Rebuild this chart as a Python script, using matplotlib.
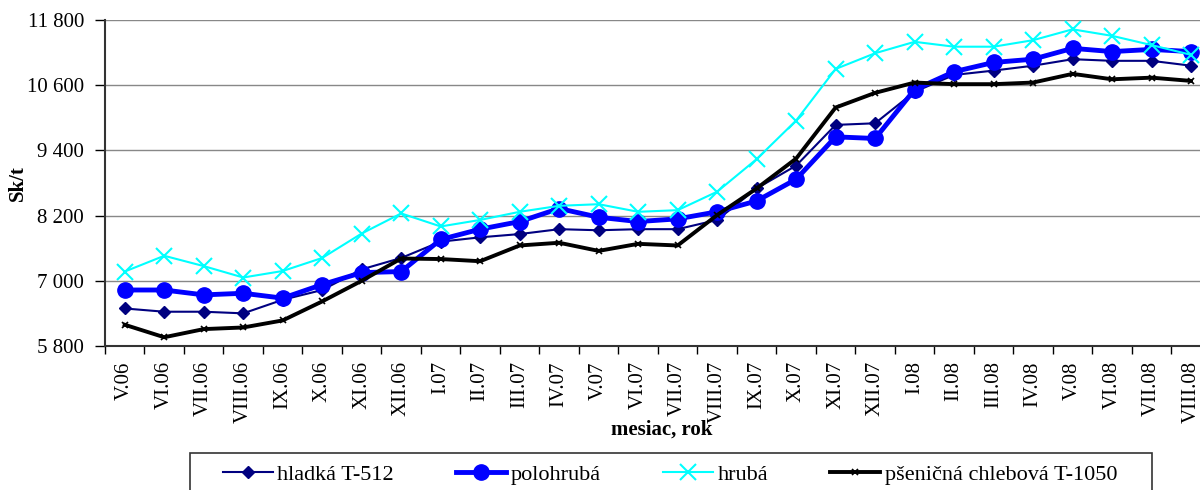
import matplotlib
matplotlib.use('Agg')
import matplotlib.pyplot as plt
from matplotlib.patches import Rectangle
import numpy as np

plt.rcParams['font.family'] = ['Liberation Serif', 'DejaVu Serif']

# months V.06 .. VIII.08
mesiace = ['V.06', 'VI.06', 'VII.06', 'VIII.06', 'IX.06', 'X.06', 'XI.06', 'XII.06',
           'I.07', 'II.07', 'III.07', 'IV.07', 'V.07', 'VI.07', 'VII.07', 'VIII.07',
           'IX.07', 'X.07', 'XI.07', 'XII.07', 'I.08', 'II.08', 'III.08', 'IV.08',
           'V.08', 'VI.08', 'VII.08', 'VIII.08']

hladka = [6490, 6430, 6430, 6400, 6650, 6830, 7210, 7420,
          7720, 7800, 7860, 7950, 7930, 7950, 7950, 8120,
          8700, 9120, 9870, 9900, 10480, 10790, 10870, 10960,
          11080, 11050, 11050, 10960]
polohruba = [6830, 6830, 6740, 6770, 6680, 6930, 7150, 7170,
             7760, 7950, 8090, 8330, 8170, 8090, 8140, 8270,
             8470, 8870, 9650, 9620, 10520, 10850, 11020, 11080,
             11280, 11220, 11260, 11220]
hruba = [7170, 7460, 7270, 7060, 7180, 7420, 7870, 8240,
         8000, 8120, 8270, 8380, 8410, 8270, 8300, 8640,
         9240, 9950, 10900, 11190, 11400, 11310, 11310, 11430,
         11630, 11510, 11340, 11160]
psenicna = [6190, 5960, 6110, 6140, 6270, 6620, 7000, 7410,
            7400, 7360, 7650, 7700, 7550, 7680, 7650, 8210,
            8700, 9250, 10190, 10460, 10650, 10620, 10620, 10650,
            10810, 10710, 10740, 10680]

yticks = [5800, 7000, 8200, 9400, 10600, 11800]
ylabels = ['5 800', '7 000', '8 200', '9 400', '10 600', '11 800']

fig = plt.figure(figsize=(12, 4.9), dpi=100)
ax = fig.add_axes([0.0875, 0.294, 0.9215, 0.665])

x = np.arange(len(mesiace))
ax.plot(x, hladka, color='#000080', lw=1.5, marker='D', ms=6, label='hladká T-512', zorder=3)
ax.plot(x, polohruba, color='#0000FF', lw=3.5, marker='o', ms=11, label='polohrubá', zorder=4)
ax.plot(x, hruba, color='#00FFFF', lw=1.5, marker='x', ms=12, mew=1.5, label='hrubá', zorder=5)
ax.plot(x, psenicna, color='black', lw=2.8, marker='x', ms=4, mew=1.2, label='pšeničná chlebová T-1050', zorder=6)

ax.set_xlim(-0.5, len(mesiace) - 0.5)
ax.set_ylim(5800, 11800)
ax.set_yticks(yticks)
ax.set_yticklabels(ylabels, fontsize=15)
ax.yaxis.grid(True, color='#888888', lw=1)
ax.set_axisbelow(True)

# ticks at category boundaries, labels at centres
ax.set_xticks(np.arange(len(mesiace) + 1) - 0.5)
ax.set_xticklabels([])
ax.set_xticks(x, minor=True)
ax.set_xticklabels(mesiace, minor=True, rotation=90, fontsize=15)
ax.tick_params(axis='x', which='minor', length=0, pad=11)
ax.tick_params(axis='x', which='major', length=6, width=1, direction='out')
ax.tick_params(axis='y', length=7, width=1, direction='out', pad=8)

for s in ['top', 'right']:
    ax.spines[s].set_visible(False)
for s in ['left', 'bottom']:
    ax.spines[s].set_linewidth(1.5)
    ax.spines[s].set_color('#333333')

fig.text(18 / 1200, 1 - 183 / 490, 'Sk/t', fontsize=15, fontweight='bold', rotation=90,
         ha='center', va='center')
fig.text(662 / 1200, 1 - 430 / 490, 'mesiac, rok', fontsize=15, fontweight='bold',
         ha='center', va='center')

# legend box (bottom runs off the picture)
fig.patches.append(Rectangle((190 / 1200, -0.05), (1152 - 190) / 1200, 0.05 + (490 - 453) / 490,
                             transform=fig.transFigure, fill=False, edgecolor='#333333', lw=1.2))
leg = fig.legend(loc='upper left', bbox_to_anchor=(223 / 1200, 1 - 464 / 490), ncol=4,
                 fontsize=16, frameon=False, handlelength=2.25, handletextpad=0.2,
                 columnspacing=2.8, borderpad=0.0, borderaxespad=0.0)

fig.savefig('out.png', dpi=100)
